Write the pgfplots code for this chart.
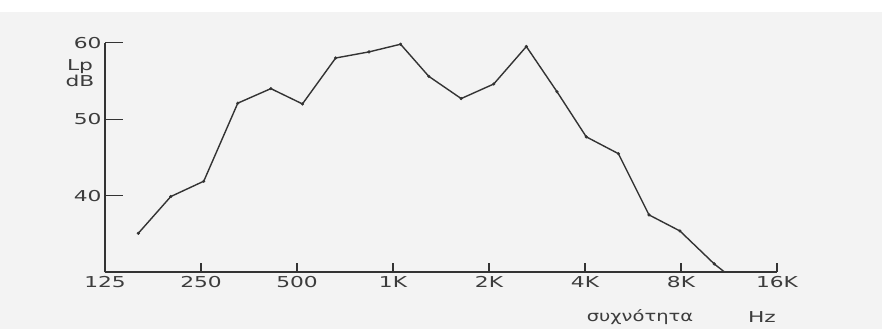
\documentclass[border=0pt]{standalone}
\usepackage{pgfplots}
\pgfplotsset{compat=1.18}
\usepackage{fontspec}
\setmainfont{DejaVu Sans}
\usepackage{graphicx}
\definecolor{ink}{HTML}{333333}
\definecolor{txt}{HTML}{3C3C3C}
\definecolor{paper}{HTML}{F3F3F3}
\newcommand\W[1]{\scalebox{1.45}[1]{#1}}
\begin{document}
\begin{tikzpicture}
\fill[paper] (0,0) rectangle (882pt,329pt);
\fill[white] (0,317pt) rectangle (882pt,329pt);
\begin{axis}[
  at={(105pt,56.7pt)}, anchor=south west,
  scale only axis, width=672pt, height=229.6pt,
  xmode=log, log basis x=2, xmin=125, xmax=16000, ymin=30, ymax=60,
  axis lines=left, axis line style={-, ink, line width=2pt},
  xtick={125,250,500,1000,2000,4000,8000,16000},
  xticklabels={\W{125},\W{250},\W{500},\W{1K},\W{2K},\W{4K},\W{8K},\W{16K}},
  ytick={40,50,60}, yticklabels={\W{40},\W{50},\W{60}},
  tick align=inside, major tick length=9pt,
  xtick style={ink, line width=1.1pt},
  ytick style={draw=none},
  tick label style={font=\fontsize{15}{15}\selectfont, text=txt},
  xticklabel style={yshift=-1pt},
  clip=false,
]
\addplot[ink, line width=1.4pt] coordinates {
(159,35.1) (201,39.9) (255,41.9) (326,52.1) (414,54.0) (520,52.0) (661,58.0)
(841,58.8) (1056,59.8) (1295,55.6) (1636,52.7) (2069,54.6) (2619,59.5)
(3267,53.6) (4036,47.7) (5091,45.5) (6350,37.5) (7938,35.4) (10167,31.1) (10980,30.0)};
\addplot[only marks, mark=*, mark size=1.4pt, ink] coordinates {
(159,35.1) (201,39.9) (255,41.9) (326,52.1) (414,54.0) (520,52.0) (661,58.0)
(841,58.8) (1056,59.8) (1295,55.6) (1636,52.7) (2069,54.6) (2619,59.5)
(3267,53.6) (4036,47.7) (5091,45.5) (6350,37.5) (7938,35.4) (10167,31.1)};
\end{axis}
\begin{axis}[
  at={(105pt,56.7pt)}, anchor=south west,
  scale only axis, width=672pt, height=229.6pt,
  xmin=0, xmax=1, ymin=30, ymax=60,
  axis lines=left, axis line style={draw=none},
  xtick=\empty, ytick={40,50,60}, yticklabels={},
  tick align=inside, major tick length=18pt,
  ytick style={ink, line width=1.3pt},
]
\end{axis}
\node[text=txt, font=\fontsize{15}{15}\selectfont] at (80pt,262pt) {\W{Lp}};
\node[text=txt, font=\fontsize{15}{15}\selectfont] at (80pt,248pt) {\W{dB}};
\node[text=txt, font=\fontsize{15}{15}\selectfont] at (640pt,12pt) {\scalebox{1.3}[1]{συχνότητα}};
\node[text=txt, font=\fontsize{15}{15}\selectfont] at (762pt,12pt) {\W{Hz}};
\pgfresetboundingbox
\path (0,0) rectangle (882pt,329pt);
\end{tikzpicture}
\end{document}
